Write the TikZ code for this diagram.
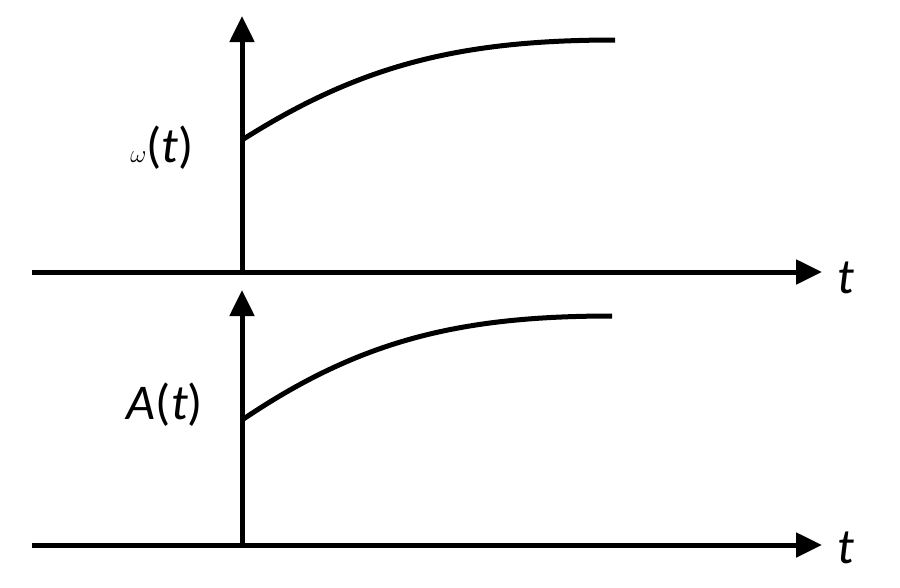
\documentclass[tikz,border=0pt]{standalone}
\usepackage{fontspec}
\setmainfont{Carlito}
\usetikzlibrary{arrows.meta,positioning}
\begin{document}
\begin{tikzpicture}[x=1pt,y=-1pt,line width=5pt,
    axis/.style={-{Triangle[length=26pt,width=24pt]}},
    lbl/.style={font=\fontsize{50}{60}\selectfont}]
        \useasboundingbox (0,0) rectangle (900,587);
        % top plot
        \coordinate (o1) at (242,272);
        \coordinate (x1) at (822,272); \coordinate (y1) at (242,16);
        \draw[axis] (32,272)--(x1);
        \draw[axis] (o1)--(y1);
        \draw (242,140)..controls(360,65)and(460,40)..(615,40);
        \node[lbl] (w) at (162,148){$\omega$\/(\textit{t})};
        \node[lbl] (t1) at (846,278){\textit{t}};
        % bottom plot
        \coordinate (o2) at (242,545);
        \coordinate (x2) at (822,545); \coordinate (y2) at (242,290);
        \draw[axis] (32,545)--(x2);
        \draw[axis] (o2)--(y2);
        \draw (242,420)..controls(360,340)and(460,316)..(612,316);
        \node[lbl] (a) at (165,405){\textit{A}(\textit{t})};
        \node[lbl] (t2) at (846,548){\textit{t}};
\end{tikzpicture}
\end{document}
